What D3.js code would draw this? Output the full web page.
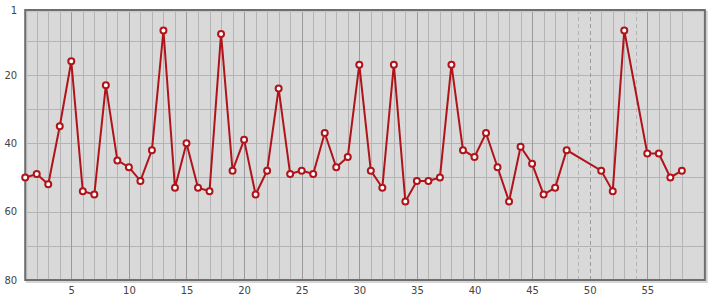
<!DOCTYPE html>
<html><head><meta charset="utf-8">
<script src="https://cdn.jsdelivr.net/npm/d3@7"></script>
<style>body{margin:0;background:#fff}svg{display:block}</style>
</head><body>
<svg id="c" width="715" height="300"></svg>
<script>
const xs = [1,2,3,4,5,6,7,8,9,10,11,12,13,14,15,16,17,18,19,20,21,22,23,24,25,26,27,28,29,30,31,32,33,34,35,36,37,38,39,40,41,42,43,44,45,46,47,48,49,50,51,52,53,54,55,56,57,58];
const values = [50,49,52,35,16,54,55,23,45,47,51,42,7,53,40,53,54,8,48,39,55,48,24,49,48,49,37,47,44,17,48,53,17,57,51,51,50,17,42,44,37,47,57,41,46,55,53,42,null,null,48,54,7,null,43,43,50,48];
const yTicks = [1,20,40,60,80];
const yGrid = [10,20,30,40,50,60,70];
const xTicks = [5,10,15,20,25,30,35,40,45,50,55];

const svg = d3.select("#c");
const L=25.2, R=704.9, T=10, B=280;
const x = d3.scaleLinear().domain([1,60]).range([L,R]);
const y = d3.scaleLinear().domain([1,80]).range([T,B]);

svg.append("rect").attr("x",L).attr("y",T).attr("width",R-L).attr("height",B-T).attr("fill","#d9d9d9");

const g = svg.append("g");
g.selectAll("line.h").data(yGrid).join("line")
  .attr("x1",L).attr("x2",R).attr("y1",d=>Math.round(y(d))+0.5).attr("y2",d=>Math.round(y(d))+0.5)
  .attr("stroke","#b4b4b4").attr("stroke-width",1);
const vdata = xs.map((d,i)=>({x:d,v:values[i]}));
g.selectAll("line.v").data(vdata).join("line")
  .attr("y1",T).attr("y2",B).attr("x1",d=>Math.round(x(d.x))+0.5).attr("x2",d=>Math.round(x(d.x))+0.5)
  .attr("stroke",d=>d.x%5===0?"#9a9a9a":"#b4b4b4").attr("stroke-width",1)
  .attr("stroke-dasharray",d=>d.v==null?"4,3":null);

// frame with shadow
svg.append("rect").attr("x",L+1.5).attr("y",T+1.5).attr("width",R-L+0.5).attr("height",B-T+0.5)
  .attr("fill","none").attr("stroke","#c8c8c8").attr("stroke-width",1.5);
svg.append("rect").attr("x",L).attr("y",T).attr("width",R-L).attr("height",B-T)
  .attr("fill","none").attr("stroke","#6e6e6e").attr("stroke-width",2);

const yAxis = d3.axisLeft(y).tickValues(yTicks).tickSize(0).tickPadding(8).tickFormat(d3.format("d"));
const ya = svg.append("g").attr("transform",`translate(${L},0)`).call(yAxis);
ya.select(".domain").remove();
ya.selectAll("text").attr("fill","#444").style("font-family","'DejaVu Sans', sans-serif").style("font-size","10px");

const xAxis = d3.axisBottom(x).tickValues(xTicks).tickSize(0).tickPadding(7).tickFormat(d3.format("d"));
const xa = svg.append("g").attr("transform",`translate(0,${B})`).call(xAxis);
xa.select(".domain").remove();
xa.selectAll("text").attr("fill","#444").style("font-family","'DejaVu Sans', sans-serif").style("font-size","10px");

const pts = vdata.filter(d=>d.v!=null);
const line = d3.line().x(d=>x(d.x)).y(d=>y(d.v));
svg.append("path").datum(pts).attr("d",line).attr("fill","none").attr("stroke","#b0141a").attr("stroke-width",2);
svg.selectAll("circle.p").data(pts).join("circle")
  .attr("cx",d=>x(d.x)).attr("cy",d=>y(d.v)).attr("r",3)
  .attr("fill","#fff").attr("stroke","#b0141a").attr("stroke-width",2);
</script>
</body></html>
